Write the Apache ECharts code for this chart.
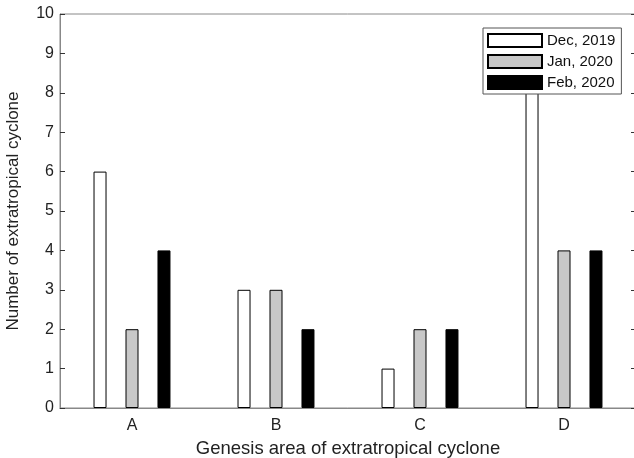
<!DOCTYPE html>
<html>
<head>
<meta charset="utf-8">
<script src="https://cdn.jsdelivr.net/npm/echarts@6/dist/echarts.min.js"></script>
<style>
  html, body { margin: 0; padding: 0; background: #fff; }
  #chart { width: 634px; height: 458px; }
</style>
</head>
<body>
<div id="chart"></div>
<script>
var areas = ["A", "B", "C", "D"];
var dec2019 = [6, 3, 1, 8];
var jan2020 = [2, 3, 2, 4];
var feb2020 = [4, 2, 2, 4];
var yTicks = [0, 10, 1];

var font = "Liberation Sans, Arial, sans-serif";
var frame = "#888";

var chart = echarts.init(document.getElementById("chart"));

function barSeries(name, data, fill) {
  return {
    name: name,
    type: "bar",
    data: data,
    barWidth: 13,
    barGap: "146%",
    itemStyle: { color: fill, borderColor: "#000", borderWidth: 1 },
    emphasis: { disabled: true }
  };
}

chart.setOption({
  animation: false,
  textStyle: { fontFamily: font },
  grid: {
    left: 60, top: 14, width: 576, height: 394,
    outerBoundsMode: "none", containLabel: false,
    show: true, borderColor: frame, borderWidth: 1
  },
  legend: {
    left: 483,
    top: 28,
    orient: "vertical",
    icon: "rect",
    itemWidth: 54,
    itemHeight: 13,
    itemGap: 6,
    padding: [5, 6, 4, 4],
    borderColor: "#555",
    borderWidth: 1,
    backgroundColor: "#fff",
    textStyle: { fontSize: 15, color: "#111", fontFamily: font },
    data: ["Dec, 2019", "Jan, 2020", "Feb, 2020"]
  },
  xAxis: [
    {
      type: "category",
      data: areas,
      name: "Genesis area of extratropical cyclone",
      nameLocation: "middle",
      nameGap: 31,
      nameTextStyle: { fontSize: 18.5, color: "#222" },
      axisLine: { lineStyle: { color: frame } },
      axisTick: { alignWithLabel: true, inside: true, length: 5, lineStyle: { color: "#333" } },
      axisLabel: { fontSize: 16, color: "#222", margin: 10 }
    },
    {
      type: "category",
      data: areas,
      position: "top",
      axisLine: { lineStyle: { color: frame } },
      axisTick: { alignWithLabel: true, inside: true, length: 5, lineStyle: { color: "#333" } },
      axisLabel: { show: false }
    }
  ],
  yAxis: [
    {
      type: "value",
      min: yTicks[0],
      max: yTicks[1],
      interval: yTicks[2],
      name: "Number of extratropical cyclone",
      nameLocation: "middle",
      nameGap: 38,
      nameTextStyle: { fontSize: 17, color: "#222" },
      axisLine: { show: true, lineStyle: { color: frame } },
      axisTick: { show: true, inside: true, length: 5, lineStyle: { color: "#333" } },
      axisLabel: { fontSize: 16, color: "#222", margin: 6 },
      splitLine: { show: false }
    },
    {
      type: "value",
      min: yTicks[0],
      max: yTicks[1],
      interval: yTicks[2],
      position: "right",
      axisLine: { show: true, lineStyle: { color: frame } },
      axisTick: { show: true, inside: true, length: 5, lineStyle: { color: "#333" } },
      axisLabel: { show: false },
      splitLine: { show: false }
    }
  ],
  series: [
    barSeries("Dec, 2019", dec2019, "#fff"),
    barSeries("Jan, 2020", jan2020, "#c8c8c8"),
    barSeries("Feb, 2020", feb2020, "#000")
  ]
});
</script>
</body>
</html>
